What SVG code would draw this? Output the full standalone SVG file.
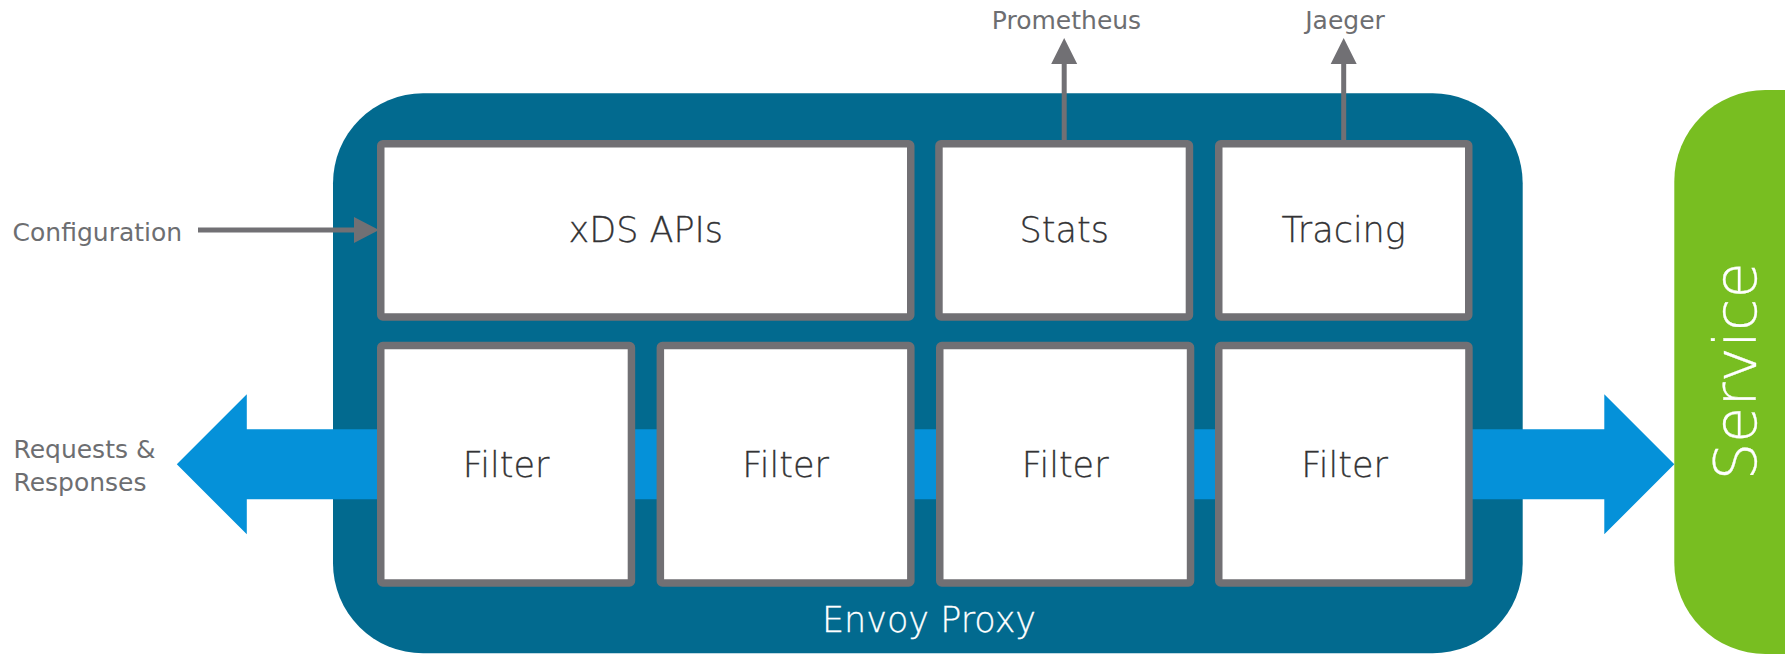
<svg xmlns="http://www.w3.org/2000/svg" width="1785" height="654" viewBox="0 0 1785 654">
<defs>
<style>
.lbl{font-family:"DejaVu Sans","Liberation Sans",sans-serif;font-size:25px;fill:#6d6e71}
.box{fill:#ffffff;stroke:#717074;stroke-width:7.5}
.btxt{font-family:"DejaVu Sans","Liberation Sans",sans-serif;font-weight:200;font-size:35px;fill:#333335;stroke:#333335;stroke-width:0.3;text-anchor:middle}
.wtxt{font-family:"DejaVu Sans","Liberation Sans",sans-serif;font-weight:200;font-size:35px;fill:#ffffff;stroke:#ffffff;stroke-width:0.3;text-anchor:middle}
.gline{stroke:#717074;stroke-width:5;fill:none}
.ghead{fill:#717074}
</style>
</defs>
<rect width="1785" height="654" fill="#ffffff"/>
<g id="service">
<rect x="1674.3" y="90" width="260" height="564" rx="91" ry="91" fill="#78be21"/>
<text class="wtxt" transform="translate(1756,371.3) rotate(-90)" style="font-size:59px">Service</text>
</g>
<g id="envoy-proxy">
<rect x="333" y="93.3" width="1189.7" height="560" rx="90" ry="90" fill="#026a8f"/>
<text class="wtxt" x="929" y="631.7">Envoy Proxy</text>
</g>
<g id="connectors">
<polygon points="176.8,464.3 246.8,394.3 246.8,429.3 1604.3,429.3 1604.3,394.3 1674.3,464.3 1604.3,534.3 1604.3,499.3 246.8,499.3 246.8,534.3" fill="#0591d9"/>
<line class="gline" x1="198" y1="230" x2="356" y2="230"/>
<polygon class="ghead" points="354,217 379,230 354,243"/>
<line class="gline" x1="1064.2" y1="62" x2="1064.2" y2="140"/>
<polygon class="ghead" points="1051.2,64 1064.2,38 1077.2,64"/>
<line class="gline" x1="1343.7" y1="62" x2="1343.7" y2="140"/>
<polygon class="ghead" points="1330.7,64 1343.7,38 1356.7,64"/>
</g>
<g id="xds-apis">
<rect class="box" x="380.75" y="143.75" width="530" height="173.2" rx="2"/>
<text class="btxt" x="645.8" y="242.3">xDS APIs</text>
</g>
<g id="stats">
<rect class="box" x="938.95" y="143.75" width="250.5" height="173.2" rx="2"/>
<text class="btxt" x="1064.2" y="242.3">Stats</text>
</g>
<g id="tracing">
<rect class="box" x="1218.75" y="143.75" width="250" height="173.2" rx="2"/>
<text class="btxt" x="1343.7" y="242.3">Tracing</text>
</g>
<g id="filter-1">
<rect class="box" x="380.75" y="345.45" width="250.7" height="237.5" rx="2"/>
<text class="btxt" x="506.1" y="477">Filter</text>
</g>
<g id="filter-2">
<rect class="box" x="660.35" y="345.45" width="250.5" height="237.5" rx="2"/>
<text class="btxt" x="785.6" y="477">Filter</text>
</g>
<g id="filter-3">
<rect class="box" x="939.75" y="345.45" width="250.8" height="237.5" rx="2"/>
<text class="btxt" x="1065.2" y="477">Filter</text>
</g>
<g id="filter-4">
<rect class="box" x="1218.75" y="345.45" width="250.2" height="237.5" rx="2"/>
<text class="btxt" x="1344.5" y="477">Filter</text>
</g>
<g id="labels">
<text class="lbl" x="12.6" y="240.7">Configuration</text>
<text class="lbl" x="1066.5" y="29.3" text-anchor="middle">Prometheus</text>
<text class="lbl" x="1345" y="29.3" text-anchor="middle">Jaeger</text>
<text class="lbl" x="13.4" y="458.3">Requests &amp;</text>
<text class="lbl" x="13.4" y="491">Responses</text>
</g>
</svg>
